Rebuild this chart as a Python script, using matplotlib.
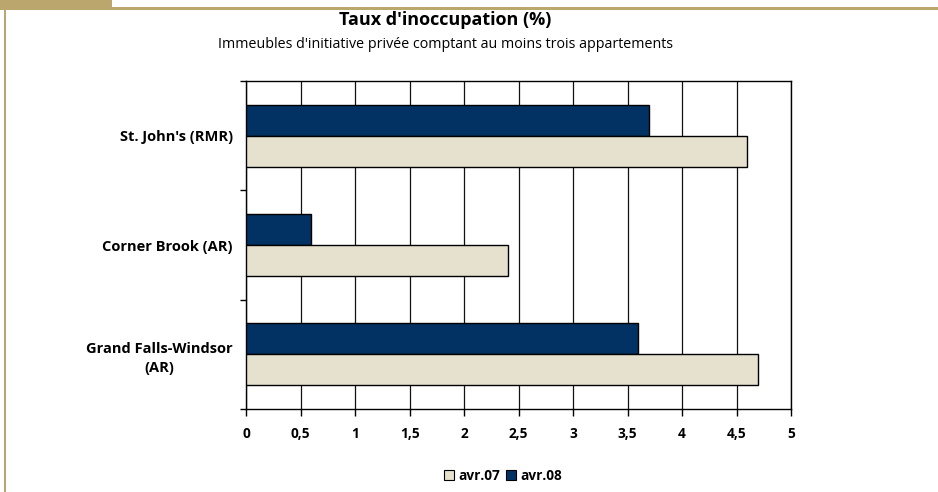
import matplotlib
matplotlib.use("Agg")
import matplotlib.pyplot as plt
from matplotlib.patches import Patch, Rectangle
import numpy as np

plt.rcParams["font.family"] = ["Open Sans", "DejaVu Sans"]

# données
villes = ["Grand Falls-Windsor\n(AR)", "Corner Brook (AR)", "St. John's (RMR)"]
avr07 = [4.7, 2.4, 4.6]
avr08 = [3.6, 0.6, 3.7]
xticks = [0, 0.5, 1, 1.5, 2, 2.5, 3, 3.5, 4, 4.5, 5]
xlabels = ["0", "0,5", "1", "1,5", "2", "2,5", "3", "3,5", "4", "4,5", "5"]

BLEU = "#023163"
BEIGE = "#E6E0CF"
OR = "#BBA76E"

fig = plt.figure(figsize=(9.38, 4.92), dpi=100)
W, H = 938, 492

# cadre décoratif (bandeau or)
fig.patches.append(Rectangle((0, 1 - 8 / H), 112 / W, 8 / H, transform=fig.transFigure,
                             color=OR, lw=0))
fig.patches.append(Rectangle((0, 1 - 9.5 / H), 1, 2.2 / H, transform=fig.transFigure,
                             color=OR, lw=0))
fig.patches.append(Rectangle((4 / W, 0), 2.4 / W, 1 - 9 / H, transform=fig.transFigure,
                             color=OR, lw=0))

ax = fig.add_axes([246 / W, 83 / H, 545 / W, 328 / H])
y = np.arange(len(villes))
h = 0.284
ax.barh(y + h / 2, avr08, height=h, color=BLEU, edgecolor="black", lw=1, zorder=3)
ax.barh(y - h / 2, avr07, height=h, color=BEIGE, edgecolor="black", lw=1, zorder=3)

ax.set_xlim(0, 5)
ax.set_ylim(-0.5, len(villes) - 0.5)
ax.set_xticks(xticks)
ax.set_xticklabels(xlabels, fontsize=9.8, fontweight="bold")
ax.tick_params(axis="x", length=5, width=1, pad=8, colors="black")
ax.grid(axis="x", color="#111111", lw=0.9, zorder=1)
ax.set_axisbelow(True)

ax.set_yticks(np.arange(-0.5, len(villes), 1.0))
ax.set_yticklabels([])
ax.set_yticks(y, minor=True)
ax.set_yticklabels(villes, minor=True, fontsize=10.5, fontweight="bold")
for t in ax.get_yticklabels(minor=True):
    t.set_multialignment("center")
    t.set_linespacing(1.5)
ax.tick_params(axis="y", which="major", length=4, width=1)
ax.tick_params(axis="y", which="minor", length=0, pad=9.5)
for s in ax.spines.values():
    s.set_color("black")
    s.set_linewidth(1)

fig.text(445 / W, 1 - 20 / H, "Taux d'inoccupation (%)", ha="center", va="center",
         fontsize=13, fontweight="bold")
fig.text(445 / W, 1 - 45 / H,
         "Immeubles d'initiative privée comptant au moins trois appartements",
         ha="center", va="center", fontsize=10.3)

handles = [Patch(facecolor=BEIGE, edgecolor="black", lw=0.8, label="avr.07"),
           Patch(facecolor=BLEU, edgecolor="black", lw=0.8, label="avr.08")]
fig.legend(handles=handles, loc="center", bbox_to_anchor=(503 / W, 1 - 476 / H),
           ncol=2, frameon=False, handlelength=0.75, handleheight=0.75,
           handletextpad=0.3, columnspacing=0.4,
           prop={"size": 9.8, "weight": "bold"})

fig.savefig("out.png", dpi=100)
